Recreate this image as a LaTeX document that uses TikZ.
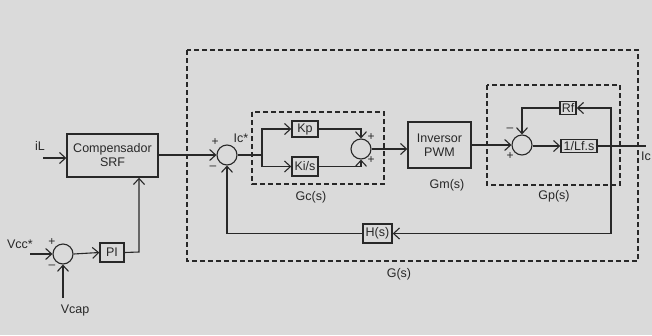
\documentclass[tikz,border=0pt]{standalone}
\usepackage{fontspec}
\setmainfont{Liberation Sans}
\usetikzlibrary{arrows.meta}
\definecolor{bg}{RGB}{218,218,218}
\definecolor{ink}{RGB}{40,40,40}
\begin{document}
\begin{tikzpicture}[x=1pt,y=-1pt,
  every node/.style={font=\fontsize{12.5}{14}\selectfont, text=ink},
  blk/.style={draw=ink, line width=1.4pt, inner sep=0pt, align=center},
  sumnode/.style={draw=ink, line width=1.1pt, circle, minimum size=20pt, inner sep=0pt},
  conn/.style={draw=ink, line width=1.1pt},
  arr/.style={conn, -{Straight Barb[length=6pt,width=11pt,line width=1.1pt]}},
  dbox/.style={draw=ink, line width=1.1pt, dash pattern=on 5pt off 3pt},
  sgn/.style={font=\fontsize{12}{12}\selectfont, inner sep=0pt}]
\fill[bg] (0,0) rectangle (652,335);
\useasboundingbox (0,0) rectangle (652,335);

% dashed frames
\draw[dbox] (187,50) rectangle (638,261);
\draw[dbox] (252,112) rectangle (384,184);
\draw[dbox] (487,85) rectangle (620,185);

% blocks
\node[blk, minimum width=91pt, minimum height=43pt] (comp) at (112.5,155.5) {Compensador\\SRF};
\node[blk, minimum width=24pt, minimum height=19pt] (pi) at (112,252.5) {PI};
\node[blk, minimum width=26pt, minimum height=16pt] (kp) at (305,129) {Kp};
\node[blk, minimum width=26pt, minimum height=19pt] (ki) at (305,166.5) {Ki/s};
\node[blk, minimum width=63pt, minimum height=46pt] (inv) at (439.5,145) {Inversor\\PWM};
\node[blk, minimum width=36pt, minimum height=13pt] (lf) at (579,146) {1/Lf.s};
\node[blk, minimum width=16pt, minimum height=13pt] (rf) at (568,108) {Rf};
\node[blk, minimum width=29pt, minimum height=19pt] (hs) at (377.5,233.5) {H(s)};

% summing junctions
\node[sumnode] (s1) at (227,155) {};
\node[sumnode] (s2) at (361,149) {};
\node[sumnode] (s3) at (522,145) {};
\node[sumnode] (s4) at (63,254) {};

% signs
\node[sgn] (p1) at (215,142) {+};
\node[sgn] (m1) at (213,168) {\textendash};
\node[sgn] (p2) at (371,137) {+};
\node[sgn] (p2b) at (371,160) {+};
\node[sgn] (m3) at (510,130) {\textendash};
\node[sgn] (p3) at (510,156) {+};
\node[sgn] (p4) at (52,242) {+};
\node[sgn] (m4) at (52,267) {\textendash};

% labels
\node (lil) at (40,146) {iL};
\node (lic) at (241,138) {Ic*};
\node (lvcc) at (20,244) {Vcc*};
\node (lvcap) at (75,310) {Vcap};
\node (lgc) at (311,197) {Gc(s)};
\node (lgm) at (447,185) {Gm(s)};
\node (lgp) at (554,196) {Gp(s)};
\node (lg) at (399,274) {G(s)};
\node[anchor=west, inner sep=0pt] (lic2) at (641,156) {Ic};

% coordinates
\coordinate (iLin) at (43,158);
\coordinate (split) at (262,155);
\coordinate (br) at (611,146);
\coordinate (out) at (646,146);
\coordinate (vccin) at (30,254);
\coordinate (vcapin) at (63,298);
\coordinate (picol) at (139,252);

% connectors
\draw[arr] (iLin) -- (comp.west |- iLin);
\draw[arr] (comp.east |- s1) -- (s1.west);
\draw[conn] (s1.east) -- (split);
\draw[arr] (split) |- (kp.west);
\draw[arr] (split) |- (ki.west);
\draw[arr] (kp.east) -| (s2.north);
\draw[arr] (ki.east) -| (s2.south);
\draw[arr] (s2.east) -- (inv.west |- s2);
\draw[arr] (inv.east) -- (s3.west);
\draw[arr] (s3.east |- lf) -- (lf.west);
\draw[conn] (lf.east) -- (out);
\draw[arr] (br) |- (rf.east);
\draw[arr] (rf.west) -| (s3.north);
\draw[arr] (br) |- (hs.east);
\draw[arr] (hs.west) -| (s1.south);
\draw[arr] (vccin) -- (s4.west);
\draw[arr] (vcapin) -- (s4.south);
\draw[arr] (s4.east) -- (pi.west);
\draw[arr] (pi.east) -- (picol) -- (picol |- comp.south);
\end{tikzpicture}
\end{document}
